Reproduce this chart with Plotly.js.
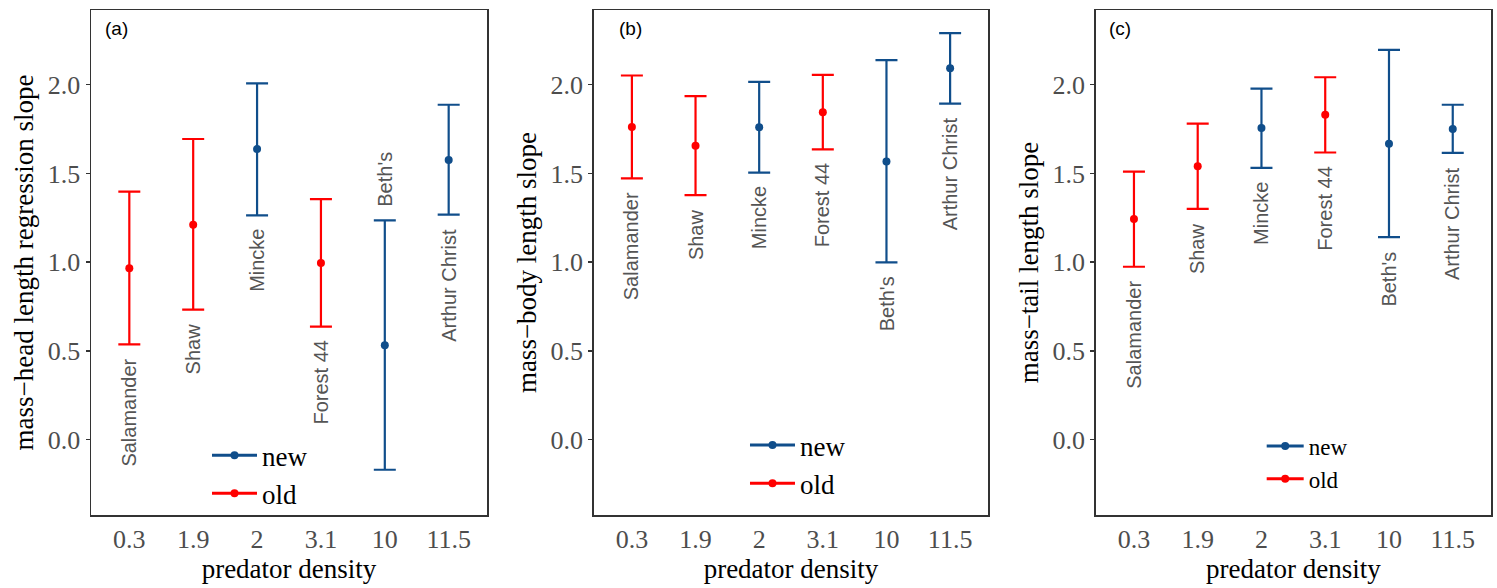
<!DOCTYPE html>
<html>
<head>
<meta charset="utf-8">
<script src="https://cdn.plot.ly/plotly-3.0.1.min.js"></script>
<style>html,body{margin:0;padding:0;background:#fff;}#chart{width:1497px;height:588px;}</style>
</head>
<body>
<div id="chart"></div>
<script>
// ---- data ----
var densities = ['0.3', '1.9', '2', '3.1', '10', '11.5'];
var sites = ['Salamander', 'Shaw', 'Mincke', 'Forest 44', "Beth's", 'Arthur Christ'];
var groups = ['old', 'old', 'new', 'old', 'new', 'new'];

var headEst = [0.965, 1.211, 1.637, 0.995, 0.531, 1.575];
var headLo  = [0.537, 0.732, 1.264, 0.637, -0.170, 1.268];
var headHi  = [1.397, 1.694, 2.008, 1.355, 1.235, 1.887];

var bodyEst = [1.762, 1.656, 1.760, 1.845, 1.567, 2.093];
var bodyLo  = [1.472, 1.378, 1.505, 1.635, 0.999, 1.893];
var bodyHi  = [2.052, 1.936, 2.016, 2.055, 2.139, 2.291];

var tailEst = [1.243, 1.540, 1.756, 1.830, 1.667, 1.750];
var tailLo  = [0.974, 1.300, 1.531, 1.618, 1.141, 1.616];
var tailHi  = [1.510, 1.781, 1.978, 2.042, 2.196, 1.887];

var yTickVals = [0, 0.5, 1, 1.5, 2];
var yTickText = ['0.0', '0.5', '1.0', '1.5', '2.0'];

// ---- style ----
var colors = {'new': '#104E8B', 'old': '#FF0000'};
var serif = 'Liberation Serif, Times New Roman, serif';
var sans = 'Liberation Sans, Arial, sans-serif';

var panels = [
  {est: headEst, lo: headLo, hi: headHi, ytitle: 'mass\u2212head length regression slope', letter: '(a)',
   above: ["Beth's"], dom: [0, 0.28286], legX: 0.08286, legY: 0.0800, legFont: 27, itemW: 45, letterX: 0.01786},
  {est: bodyEst, lo: bodyLo, hi: bodyHi, ytitle: 'mass\u2212body length slope', letter: '(b)',
   above: [], dom: [0.35907, 0.64093], legX: 0.46714, legY: 0.1000, legFont: 27, itemW: 45, letterX: 0.385},
  {est: tailEst, lo: tailLo, hi: tailHi, ytitle: 'mass\u2212tail length slope', letter: '(c)',
   above: [], dom: [0.71764, 1], legX: 0.83621, legY: 0.1040, legFont: 23, itemW: 37, letterX: 0.7348}
];

var traces = [];
var annotations = [];
var layout = {
  width: 1497, height: 588,
  margin: {l: 91, r: 6, t: 10, b: 73},
  paper_bgcolor: '#fff', plot_bgcolor: '#fff',
  showlegend: true,
  annotations: annotations
};

panels.forEach(function (p, k) {
  var sfx = k === 0 ? '' : String(k + 1);
  var xa = 'x' + sfx, ya = 'y' + sfx;
  var legName = 'legend' + sfx;

  ['old', 'new'].forEach(function (g) {
    var xs = [], ys = [], up = [], dn = [];
    for (var i = 0; i < densities.length; i++) {
      if (groups[i] !== g) continue;
      xs.push(densities[i]); ys.push(p.est[i]);
      up.push(p.hi[i] - p.est[i]); dn.push(p.est[i] - p.lo[i]);
    }
    traces.push({
      type: 'scatter', mode: 'markers', x: xs, y: ys, xaxis: xa, yaxis: ya,
      name: g, showlegend: false, hoverinfo: 'x+y',
      marker: {color: colors[g], size: 8},
      error_y: {type: 'data', symmetric: false, array: up, arrayminus: dn,
                color: colors[g], thickness: 2.2, width: 11}
    });
  });
  // legend entries
  ['new', 'old'].forEach(function (g) {
    traces.push({
      type: 'scatter', mode: 'lines+markers', x: [null], y: [null], xaxis: xa, yaxis: ya,
      name: g, legend: legName, showlegend: true,
      line: {color: colors[g], width: 3}, marker: {color: colors[g], size: 8}
    });
  });

  layout['xaxis' + sfx] = {
    domain: p.dom, anchor: ya, type: 'category', categoryorder: 'array', categoryarray: densities,
    range: [-0.6, 5.6], showgrid: false, zeroline: false,
    showline: true, mirror: true, linecolor: '#333', linewidth: 1.5,
    ticks: '', ticklabelstandoff: 0,
    tickfont: {family: serif, size: 26, color: '#4D4D4D'},
    title: {text: 'predator density', font: {family: serif, size: 27, color: '#000'}, standoff: 2}
  };
  layout['yaxis' + sfx] = {
    domain: [0, 1], anchor: xa, range: [-0.425, 2.421], showgrid: false, zeroline: false,
    showline: true, mirror: true, linecolor: '#333', linewidth: 1.5,
    ticks: 'outside', ticklen: 4, tickwidth: 1.3, tickcolor: '#333',
    tickmode: 'array', tickvals: yTickVals, ticktext: yTickText,
    tickfont: {family: serif, size: 26, color: '#4D4D4D'},
    title: {text: p.ytitle, font: {family: serif, size: 27, color: '#000'}, standoff: 6}
  };
  layout[legName] = {
    x: p.legX, y: p.legY, xanchor: 'left', yanchor: 'middle', xref: 'paper', yref: 'paper',
    bgcolor: 'rgba(0,0,0,0)', borderwidth: 0, itemwidth: p.itemW,
    font: {family: serif, size: p.legFont, color: '#000'}
  };

  // site labels (x given as category index)
  for (var i = 0; i < sites.length; i++) {
    var isAbove = p.above.indexOf(sites[i]) >= 0;
    annotations.push({
      xref: xa, yref: ya, x: i, y: isAbove ? p.hi[i] : p.lo[i],
      text: sites[i], textangle: -90, showarrow: false,
      xanchor: 'center', yanchor: isAbove ? 'bottom' : 'top', yshift: isAbove ? 12 : -12,
      font: {family: sans, size: 20, color: '#555'}
    });
  }
  // panel letter
  annotations.push({
    xref: 'paper', yref: 'paper', x: p.letterX, y: 0.9624, text: p.letter, showarrow: false,
    xanchor: 'center', yanchor: 'middle', font: {family: sans, size: 19, color: '#000'}
  });
});

Plotly.newPlot('chart', traces, layout, {displayModeBar: false, staticPlot: true});
</script>
</body>
</html>
